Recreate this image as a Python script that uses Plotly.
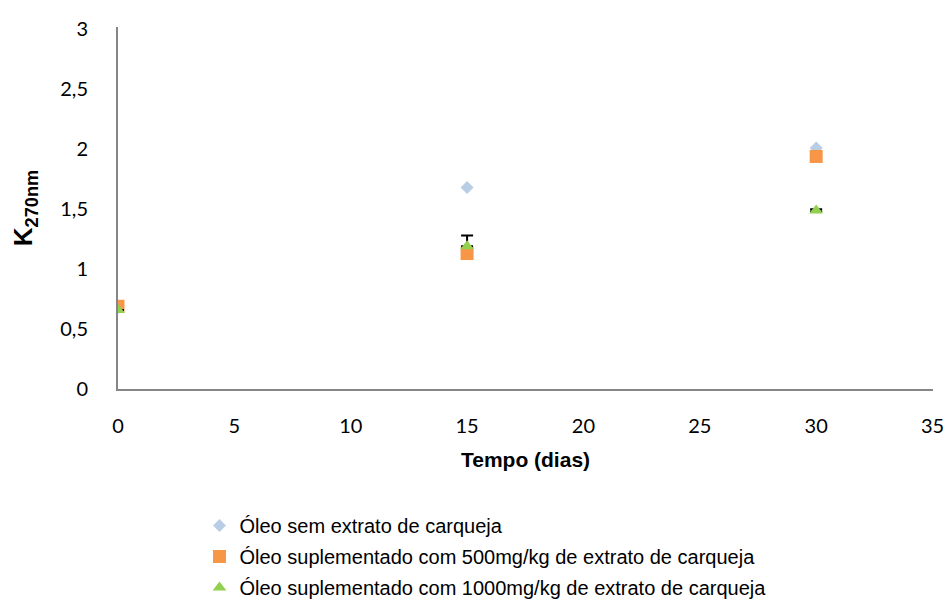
import plotly.graph_objects as go

dias = [0, 15, 30]
sem_extrato = [0.68, 1.68, 2.01]
sem_extrato_err = [0.01, 0.01, 0.01]
ext500 = [0.69, 1.13, 1.94]
ext500_err = [0.0, 0.0, 0.0]
ext1000 = [0.66, 1.19, 1.49]
ext1000_err = [0.0, 0.09, 0.01]
ext1000_err_minus = [0.0, 0.0, 0.01]

names = ["Óleo sem extrato de carqueja",
         "Óleo suplementado com 500mg/kg de extrato de carqueja",
         "Óleo suplementado com 1000mg/kg de extrato de carqueja"]

fig = go.Figure()
fig.add_trace(go.Scatter(x=dias, y=sem_extrato, mode="markers", name=names[0], legendgroup="a",
                         marker=dict(symbol="diamond", size=10, color="#b9cde5"),
                         error_y=dict(type="data", array=sem_extrato_err, color="black", thickness=1.5, width=3)))
fig.add_trace(go.Scatter(x=dias, y=ext500, mode="markers", name=names[1], legendgroup="b",
                         marker=dict(symbol="square", size=13, color="#f79646"),
                         error_y=dict(type="data", array=ext500_err, color="black", thickness=1.5, width=3)))
fig.add_trace(go.Scatter(x=dias, y=ext1000, mode="markers", name=names[2], legendgroup="c",
                         marker=dict(symbol="triangle-up", size=12, color="#92d050"),
                         error_y=dict(type="data", symmetric=False, array=ext1000_err,
                                      arrayminus=ext1000_err_minus, color="black", thickness=2, width=6)))

fig.update_layout(
    width=945, height=610,
    margin=dict(l=118, r=12, t=27, b=221, autoexpand=False),
    plot_bgcolor="white", paper_bgcolor="white",
    showlegend=True,
    legend=dict(x=0.1, y=-0.323, xanchor="left", yanchor="top",
                font=dict(family="Liberation Sans, Arial", size=20, color="black"),
                traceorder="grouped", tracegroupgap=2, itemwidth=30),
    xaxis=dict(range=[0, 35.02], tickvals=[0, 5, 10, 15, 20, 25, 30, 35], automargin=False,
               showgrid=False, zeroline=False, showline=True, linecolor="#868686", linewidth=2,
               ticks="", ticklabelstandoff=18,
               tickfont=dict(family="Lato, Open Sans", size=20, color="black"),
               title=dict(text="<b>Tempo (dias)</b>", font=dict(family="Liberation Sans, Arial", size=21, color="black"), standoff=16)),
    yaxis=dict(range=[0, 3.02], tickvals=[0, 0.5, 1, 1.5, 2, 2.5, 3], automargin=False,
               ticktext=["0", "0,5", "1", "1,5", "2", "2,5", "3"],
               showgrid=False, zeroline=False, showline=True, linecolor="#868686", linewidth=2,
               ticks="", ticklabelstandoff=24,
               tickfont=dict(family="Lato, Open Sans", size=20, color="black"),
               title=dict(text="<b>K<sub>270nm</sub></b>", font=dict(family="Liberation Sans, Arial", size=26, color="black"), standoff=20)),
)

fig.write_html("out.html")
